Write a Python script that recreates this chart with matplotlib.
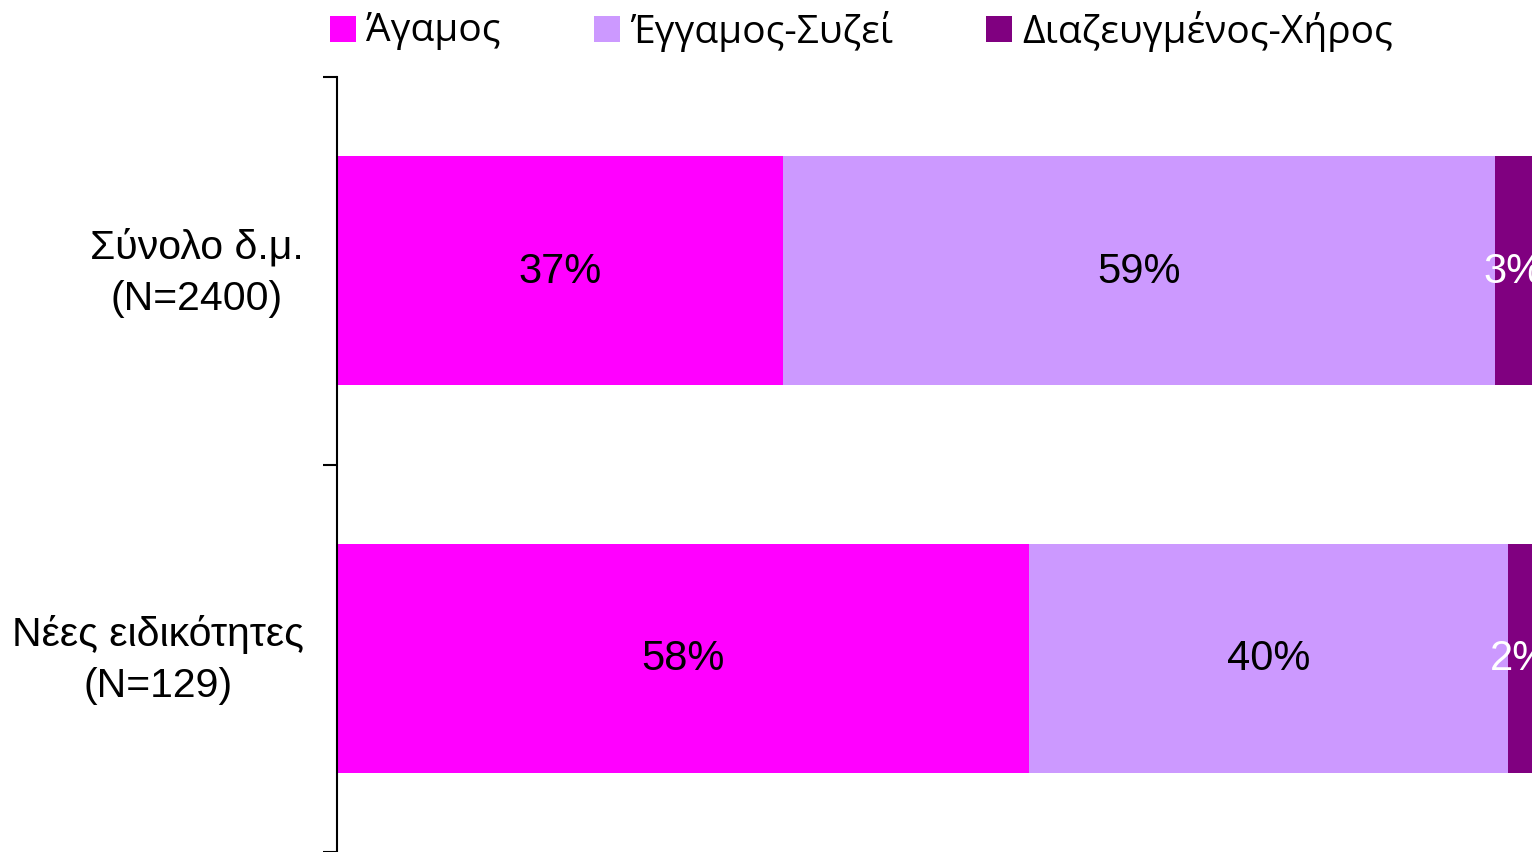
import matplotlib
matplotlib.use("Agg")
import matplotlib.pyplot as plt
from matplotlib.patches import Rectangle
from matplotlib.transforms import ScaledTranslation
import numpy as np

categories = ["Σύνολο δ.μ.\n(N=2400)", "Νέες ειδικότητες\n(N=129)"]
series_names = ["Άγαμος", "Έγγαμος-Συζεί", "Διαζευγμένος-Χήρος"]
agamos = [37.3, 57.9]
eggamos = [59.6, 40.1]
diazeugmenos = [3.1, 2.0]
label_agamos = ["37%", "58%"]
label_eggamos = ["59%", "40%"]
label_diaz = ["3%", "2%"]

colors = ["#FF00FF", "#CC99FF", "#800080"]
text_colors = ["black", "black", "white"]

plt.rcParams['font.family'] = ['Liberation Sans', 'DejaVu Sans']

W, H = 1539, 853
fig = plt.figure(figsize=(W / 100, H / 100), dpi=100)
ax = fig.add_axes([337 / W, 0, 1195 / W, 1 - 78 / H])

y = np.arange(len(categories))
left = np.zeros(len(categories))
series = [agamos, eggamos, diazeugmenos]
labels = [label_agamos, label_eggamos, label_diaz]
for vals, lab, col, tcol in zip(series, labels, colors, text_colors):
    vals = np.array(vals)
    ax.barh(y, vals, left=left, height=0.59, color=col, edgecolor='none')
    for yi, l, v, t in zip(y, left, vals, lab):
        ax.text(l + v / 2, yi, t, ha='center', va='center', fontsize=30,
                color=tcol, clip_on=True)
    left = left + vals

ax.set_xlim(0, 100)
ax.set_ylim(1.5, -0.5)

ax.set_yticks(y)
ax.set_yticklabels(categories, fontsize=29.5, ha='right', multialignment='center',
                   linespacing=1.45)
ax.tick_params(axis='y', which='major', length=0, pad=24)
ax.set_yticks([-0.5, 0.5, 1.5], minor=True)
ax.tick_params(axis='y', which='minor', length=10, width=1.5, direction='out')
ax.set_xticks([])

# nudge category labels up a little
shift = ScaledTranslation(0, 0.1, fig.dpi_scale_trans)
for lbl in ax.get_yticklabels():
    lbl.set_transform(lbl.get_transform() + shift)

for s in ['top', 'right', 'bottom']:
    ax.spines[s].set_visible(False)
ax.spines['left'].set_linewidth(1.5)

# legend across the top, laid out by hand
box_x = [330, 594, 986]
for bx, name, col in zip(box_x, series_names, colors):
    fig.patches.append(Rectangle((bx / W, 1 - 43 / H), 26 / W, 26 / H,
                                 transform=fig.transFigure, facecolor=col,
                                 edgecolor='none'))
    fig.text((bx + 36) / W, 1 - 31 / H, name, ha='left', va='center',
             fontsize=28, family='Open Sans')

fig.savefig("out.png", dpi=100)
